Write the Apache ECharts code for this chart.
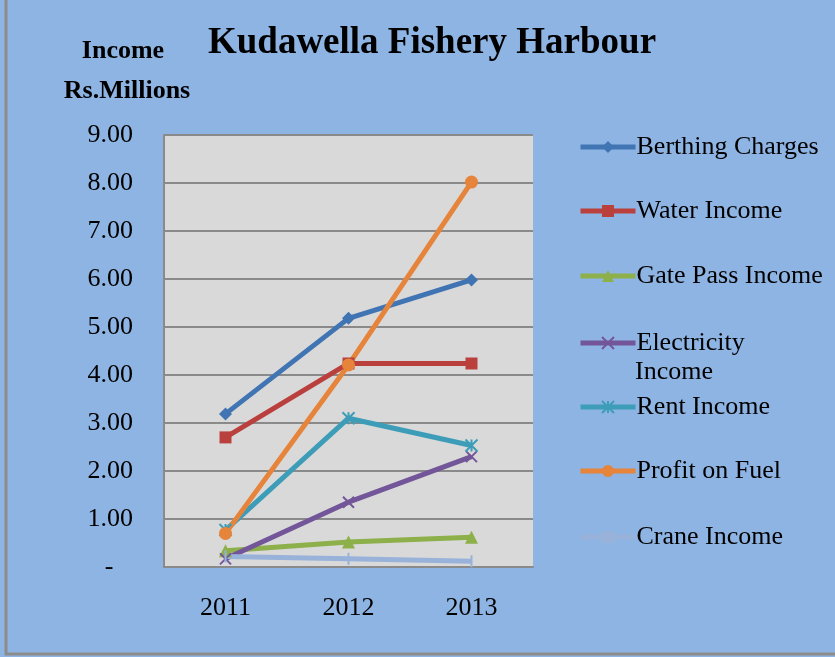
<!DOCTYPE html>
<html><head><meta charset="utf-8">
<script src="https://cdn.jsdelivr.net/npm/echarts@6/dist/echarts.min.js"></script>
<style>html,body{margin:0;padding:0;background:#8EB4E3}#c{width:835px;height:657px}</style>
</head><body><div id="c"></div>
<script>
const years = ['2011', '2012', '2013'];
const berthing = [3.19, 5.18, 5.98];
const water = [2.70, 4.24, 4.24];
const gatePass = [0.34, 0.52, 0.62];
const electricity = [0.17, 1.35, 2.30];
const rent = [0.77, 3.10, 2.53];
const profitFuel = [0.70, 4.21, 8.02];
const crane = [0.22, 0.17, 0.12];
const yTicks = [0, 1, 2, 3, 4, 5, 6, 7, 8, 9];

const FONT = '"Liberation Serif", "Times New Roman", serif';
const seriesDefs = [
  {name: 'Berthing Charges', data: berthing, color: '#4174B3', symbol: 'diamond', size: 13},
  {name: 'Water Income', data: water, color: '#B9403D', symbol: 'rect', size: 12},
  {name: 'Gate Pass Income', data: gatePass, color: '#8DB04A', symbol: 'triangle', size: 13},
  {name: 'Electricity Income', data: electricity, color: '#73569A', symbol: 'path://M0,0L10,10M10,0L0,10', size: 11, stroke: true},
  {name: 'Rent Income', data: rent, color: '#3D9DB8', symbol: 'path://M0,0L10,10M10,0L0,10M5,0L5,10', size: 12, stroke: true},
  {name: 'Profit on Fuel', data: profitFuel, color: '#E5843A', symbol: 'circle', size: 13},
  {name: 'Crane Income', data: crane, color: '#98B2DA', symbol: 'rect', size: [2, 12]}
];
const legendTops = [147, 211, 276, 343, 407, 471, 537];

const chart = echarts.init(document.getElementById('c'));
const series = seriesDefs.map(s => ({
  name: s.name, type: 'line', data: s.data,
  symbol: s.symbol, symbolSize: s.size,
  lineStyle: {color: s.color, width: 5},
  itemStyle: s.stroke ? {color: s.color, borderColor: s.color, borderWidth: 2} : {color: s.color},
  emphasis: {disabled: true}, animation: false, z: 3
}));
const legends = seriesDefs.map((s, i) => ({
  id: 'lg' + i,
  data: [s.name], left: 578, top: legendTops[i] - 13, orient: 'vertical',
  itemWidth: 55, itemHeight: 15, itemGap: 0, padding: 0,
  lineStyle: {width: 5},
  formatter: n => n === 'Electricity Income' ? 'Electricity' : n,
  textStyle: {fontFamily: FONT, fontSize: 26, color: '#000', padding: [0, 0, 0, -4]},
  selectedMode: false
}));
chart.setOption({
  backgroundColor: '#8EB4E3',
  animation: false,
  title: {text: 'Kudawella Fishery Harbour', left: 427, textAlign: 'center', top: 20,
    textStyle: {fontFamily: FONT, fontSize: 37, fontWeight: 'bold', color: '#000'}},
  legend: legends,
  grid: {left: 164, top: 135, width: 369, height: 432, show: true, backgroundColor: '#D9D9D9', borderWidth: 0, containLabel: false},
  xAxis: {type: 'category', data: years, boundaryGap: true,
    axisLine: {show: true, lineStyle: {color: '#8A8A8A', width: 2}},
    axisTick: {show: false},
    axisLabel: {fontFamily: FONT, fontSize: 26, color: '#000', margin: 28}},
  yAxis: {type: 'value', min: yTicks[0], max: yTicks[yTicks.length - 1], interval: 1,
    axisLine: {show: true, lineStyle: {color: '#8A8A8A', width: 2}},
    axisTick: {show: false},
    splitLine: {lineStyle: {color: '#8A8A8A', width: 2}},
    axisLabel: {fontFamily: FONT, fontSize: 26, color: '#000', margin: 31,
      formatter: v => v === 0 ? '-   ' : v.toFixed(2)}},
  graphic: [
    {type: 'polyline', shape: {points: [[6, -10], [6, 654], [850, 654]]}, style: {stroke: '#8C8C8C', lineWidth: 3, fill: null}},
    {type: 'text', x: 123, y: 38, style: {text: 'Income', font: 'bold 26px ' + FONT, fill: '#000', textAlign: 'center'}},
    {type: 'text', x: 127, y: 78, style: {text: 'Rs.Millions', font: 'bold 26px ' + FONT, fill: '#000', textAlign: 'center'}},
    {type: 'text', left: 635, top: 359, style: {text: 'Income', font: '26px ' + FONT, fill: '#000'}}
  ],
  series: series
});
</script></body></html>
